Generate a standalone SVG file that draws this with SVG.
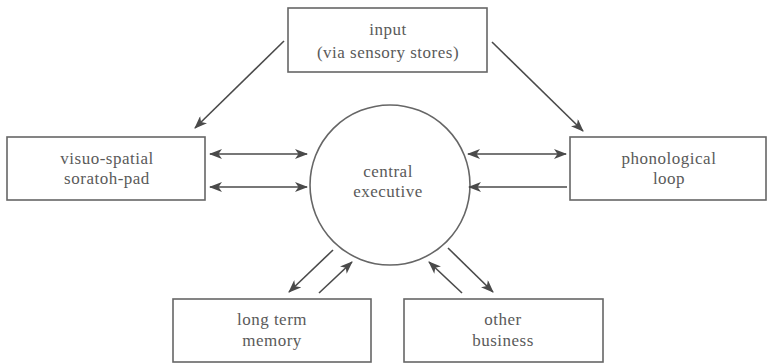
<svg xmlns="http://www.w3.org/2000/svg" width="768" height="364" viewBox="0 0 768 364">
<defs>
<marker id="ah" viewBox="0 0 13 10" refX="12" refY="5" markerWidth="13" markerHeight="10" markerUnits="userSpaceOnUse" orient="auto-start-reverse">
<path d="M0,0 L13,5 L0,10 L3.5,5 Z" fill="#4a4a4a"/>
</marker>
</defs>
<style>
.box{fill:#fff;stroke:#666;stroke-width:1.6}
.t{font-family:"Liberation Serif",serif;font-size:17px;fill:#5a5a5a;text-anchor:middle;letter-spacing:0.5px}
.c{stroke:#4a4a4a;stroke-width:1.6;fill:none}
</style>
<rect width="768" height="364" fill="#fff"/>
<g id="input">
<rect class="box" x="288" y="8" width="199" height="64"/>
<text class="t" x="388" y="35">input</text>
<text class="t" x="388" y="58">(via sensory stores)</text>
</g>
<g id="central">
<circle class="box" cx="390" cy="185" r="80"/>
<text class="t" x="388" y="177">central</text>
<text class="t" x="388" y="197">executive</text>
</g>
<g id="visuo">
<rect class="box" x="7" y="137" width="198" height="63"/>
<text class="t" x="107" y="164">visuo-spatial</text>
<text class="t" x="107" y="184">soratoh-pad</text>
</g>
<g id="phono">
<rect class="box" x="570" y="137" width="196" height="63"/>
<text class="t" x="669" y="164">phonological</text>
<text class="t" x="669" y="184">loop</text>
</g>
<g id="ltm">
<rect class="box" x="173" y="299" width="198" height="63"/>
<text class="t" x="272" y="325">long term</text>
<text class="t" x="272" y="346">memory</text>
</g>
<g id="other">
<rect class="box" x="404" y="299" width="199" height="63"/>
<text class="t" x="503" y="325">other</text>
<text class="t" x="503" y="346">business</text>
</g>
<g id="connectors">
<line class="c" x1="284" y1="41" x2="195" y2="128" marker-end="url(#ah)"/>
<line class="c" x1="492" y1="42" x2="583" y2="131" marker-end="url(#ah)"/>
<line class="c" x1="210" y1="154" x2="307" y2="154" marker-start="url(#ah)" marker-end="url(#ah)"/>
<line class="c" x1="210" y1="187" x2="307" y2="187" marker-start="url(#ah)" marker-end="url(#ah)"/>
<line class="c" x1="468" y1="154" x2="566" y2="154" marker-start="url(#ah)" marker-end="url(#ah)"/>
<line class="c" x1="567" y1="187" x2="469" y2="187" marker-end="url(#ah)"/>
<line class="c" x1="333" y1="250" x2="289" y2="292" marker-end="url(#ah)"/>
<line class="c" x1="319" y1="293" x2="352" y2="262" marker-end="url(#ah)"/>
<line class="c" x1="462" y1="293" x2="429" y2="262" marker-end="url(#ah)"/>
<line class="c" x1="448" y1="248" x2="493" y2="292" marker-end="url(#ah)"/>
</g>
</svg>
